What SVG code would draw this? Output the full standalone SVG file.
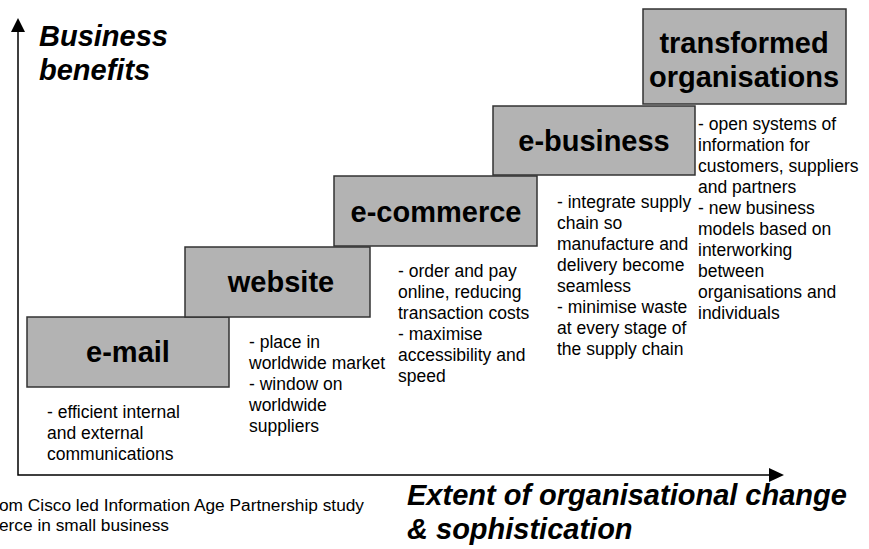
<svg xmlns="http://www.w3.org/2000/svg" width="869" height="549" viewBox="0 0 869 549">
  <style>
    .step { fill: #b3b3b3; stroke: #333333; stroke-width: 1.5; }
    .label { font-family: "Liberation Sans", Arial, sans-serif; font-weight: bold; font-size: 29px; fill: #000; text-anchor: middle; }
    .desc { font-family: "Liberation Sans", Arial, sans-serif; font-size: 17.5px; fill: #000; }
    .axis-title { font-family: "Liberation Sans", Arial, sans-serif; font-weight: bold; font-style: italic; font-size: 29px; fill: #000; }
    .note { font-family: "Liberation Sans", Arial, sans-serif; font-size: 17.3px; fill: #000; }
    .axis { fill: none; stroke: #000; stroke-width: 1.5; }
  </style>

  <!-- axes -->
  <g id="axes">
    <path class="axis" d="M18 30 V475 H772"/>
    <polygon points="18,18 11,32 25,32" fill="#000"/>
    <polygon points="784,475 769,468 769,482" fill="#000"/>
    <text class="axis-title" x="39" y="46">Business</text>
    <text class="axis-title" x="39" y="80">benefits</text>
    <text class="axis-title" x="407" y="505">Extent of organisational change</text>
    <text class="axis-title" x="407" y="539">&amp; sophistication</text>
  </g>

  <!-- staircase steps -->
  <g id="email">
    <rect class="step" x="27" y="317" width="202" height="70"/>
    <text class="label" x="128" y="362">e-mail</text>
    <text class="desc">
      <tspan x="47" y="418">- efficient internal</tspan>
      <tspan x="47" y="439">and external</tspan>
      <tspan x="47" y="460">communications</tspan>
    </text>
  </g>

  <g id="website">
    <rect class="step" x="185" y="247" width="185" height="70"/>
    <text class="label" x="281" y="292">website</text>
    <text class="desc">
      <tspan x="249" y="348">- place in</tspan>
      <tspan x="249" y="369">worldwide market</tspan>
      <tspan x="249" y="390">- window on</tspan>
      <tspan x="249" y="411">worldwide</tspan>
      <tspan x="249" y="432">suppliers</tspan>
    </text>
  </g>

  <g id="ecommerce">
    <rect class="step" x="334" y="176" width="203" height="70"/>
    <text class="label" x="436" y="222">e-commerce</text>
    <text class="desc">
      <tspan x="398" y="277">- order and pay</tspan>
      <tspan x="398" y="298">online, reducing</tspan>
      <tspan x="398" y="319">transaction costs</tspan>
      <tspan x="398" y="340">- maximise</tspan>
      <tspan x="398" y="361">accessibility and</tspan>
      <tspan x="398" y="382">speed</tspan>
    </text>
  </g>

  <g id="ebusiness">
    <rect class="step" x="493" y="106" width="202" height="69"/>
    <text class="label" x="594" y="151">e-business</text>
    <text class="desc">
      <tspan x="557" y="208">- integrate supply</tspan>
      <tspan x="557" y="229">chain so</tspan>
      <tspan x="557" y="250">manufacture and</tspan>
      <tspan x="557" y="271">delivery become</tspan>
      <tspan x="557" y="292">seamless</tspan>
      <tspan x="557" y="313">- minimise waste</tspan>
      <tspan x="557" y="334">at every stage of</tspan>
      <tspan x="557" y="355">the supply chain</tspan>
    </text>
  </g>

  <g id="transformed">
    <rect class="step" x="643" y="9" width="203" height="95"/>
    <text class="label" x="744" y="53">transformed</text>
    <text class="label" x="744" y="87">organisations</text>
    <text class="desc">
      <tspan x="698" y="130">- open systems of</tspan>
      <tspan x="698" y="151">information for</tspan>
      <tspan x="698" y="172">customers, suppliers</tspan>
      <tspan x="698" y="193">and partners</tspan>
      <tspan x="698" y="214">- new business</tspan>
      <tspan x="698" y="235">models based on</tspan>
      <tspan x="698" y="256">interworking</tspan>
      <tspan x="698" y="277">between</tspan>
      <tspan x="698" y="298">organisations and</tspan>
      <tspan x="698" y="319">individuals</tspan>
    </text>
  </g>

  <!-- source note -->
  <g id="source">
    <text class="note" x="-1" y="511">om Cisco led Information Age Partnership study</text>
    <text class="note" x="-1" y="531">erce in small business</text>
  </g>
</svg>
